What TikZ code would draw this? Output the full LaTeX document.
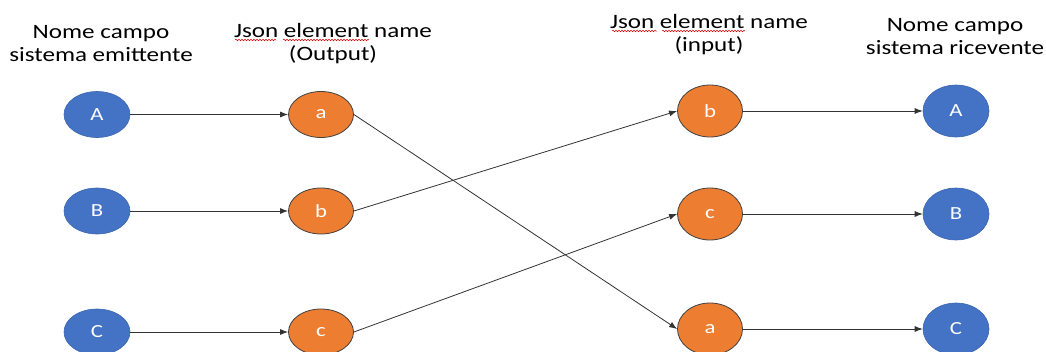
\documentclass[tikz,border=0pt]{standalone}
\usepackage{fontspec}
\usepackage{graphicx}
\setmainfont{Carlito}
\usetikzlibrary{shapes.geometric,arrows.meta,decorations.pathmorphing}
\definecolor{nodeblue}{HTML}{4472C4}
\definecolor{nodeorange}{HTML}{ED7D31}
\definecolor{edgegray}{HTML}{333333}
\newcommand{\hdr}[1]{\scalebox{1.23}[1]{\fontsize{20.4}{23.5}\selectfont\begin{tabular}[t]{@{}c@{}}#1\end{tabular}}}
\newcommand{\lbl}[1]{\scalebox{1.23}[1]{\fontsize{18.5}{20}\selectfont #1}}
\begin{document}
\begin{tikzpicture}[x=1pt,y=-1pt,
  header/.style={anchor=base,inner sep=0pt,text=black},
  bluenode/.style={ellipse,fill=nodeblue,draw=nodeblue!90!black,line width=0.6pt,text=white,minimum width=66pt,minimum height=46pt,inner sep=0pt},
  orangenode/.style={ellipse,fill=nodeorange,draw=black!75,line width=0.8pt,text=white,minimum width=65pt,minimum height=46pt,inner sep=0pt},
  tall/.style={minimum height=52pt},
  link/.style={draw=edgegray,line width=0.8pt,-{Latex[length=8pt,width=6pt]}},
  squiggle/.style={draw=red!85!black,line width=0.5pt,decorate,decoration={snake,amplitude=0.8pt,segment length=3pt}}
]
\useasboundingbox (0,0) rectangle (1046,351);

% headers
\node[header] (h1) at (101,38) {\hdr{Nome campo\\sistema emittente}};
\node[header] (h2) at (333,37) {\hdr{Json element name\\(Output)}};
\node[header] (h3) at (709,28) {\hdr{Json element name\\(input)}};
\node[header] (h4) at (955,31) {\hdr{Nome campo\\sistema ricevente}};

% spell-check underlines
\draw[squiggle] (235,40) -- (276,40);
\draw[squiggle] (283,40) -- (369,40);
\draw[squiggle] (612,31) -- (657,31);
\draw[squiggle] (662,31) -- (745,31);

% left blue
\node[bluenode] (sA) at (97,114.5) {\lbl{A}};
\node[bluenode] (sB) at (97,211) {\lbl{B}};
\node[bluenode] (sC) at (97,332) {\lbl{C}};
% left orange
\node[orangenode] (oa) at (321,114.5) {\lbl{a}};
\node[orangenode] (ob) at (321,211) {\lbl{b}};
\node[orangenode] (oc) at (321,332) {\lbl{c}};
% right orange
\node[orangenode,tall] (ib) at (710,111) {\lbl{b}};
\node[orangenode,tall] (ic) at (710,214) {\lbl{c}};
\node[orangenode,tall] (ia) at (710,329) {\lbl{a}};
% right blue
\node[bluenode,tall] (rA) at (956,111) {\lbl{A}};
\node[bluenode,tall] (rB) at (956,214) {\lbl{B}};
\node[bluenode,tall] (rC) at (956,329) {\lbl{C}};

% connectors
\draw[link] (sA) -- (oa);
\draw[link] (sB) -- (ob);
\draw[link] (sC) -- (oc);
\draw[link] (oa.east) -- (ia.west);
\draw[link] (ob.east) -- (ib.west);
\draw[link] (oc.east) -- (ic.west);
\draw[link] (ib) -- (rA);
\draw[link] (ic) -- (rB);
\draw[link] (ia) -- (rC);
\end{tikzpicture}
\end{document}
